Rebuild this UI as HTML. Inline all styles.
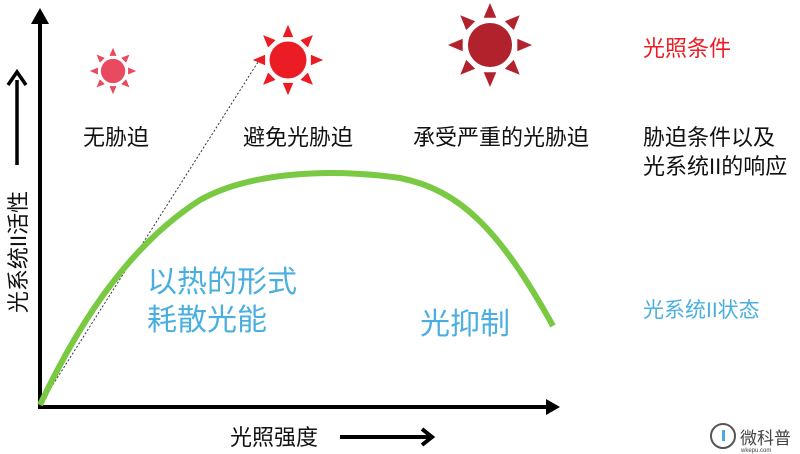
<!DOCTYPE html>
<html><head><meta charset="utf-8"><style>
body{margin:0;background:#fff}
svg{display:block}
text{font-family:"Liberation Sans","Noto Sans CJK SC",sans-serif}
</style></head><body>
<svg width="800" height="454" viewBox="0 0 800 454" xmlns="http://www.w3.org/2000/svg">
<defs>
<polygon id="r" points="-6,-26 6,-26 0,-40"/>
<g id="sun">
<circle r="21"/>
<use href="#r"/><use href="#r" transform="rotate(45)"/><use href="#r" transform="rotate(90)"/><use href="#r" transform="rotate(135)"/><use href="#r" transform="rotate(180)"/><use href="#r" transform="rotate(225)"/><use href="#r" transform="rotate(270)"/><use href="#r" transform="rotate(315)"/>
</g>
</defs>
<!-- axes -->
<line x1="40" y1="408" x2="40" y2="22" stroke="#000" stroke-width="4"/>
<polygon points="31,24 40,8 49,24" fill="#000"/>
<line x1="38" y1="407" x2="548" y2="407" stroke="#000" stroke-width="4"/>
<polygon points="546,399 560,407 546,415" fill="#000"/>
<!-- small y arrow -->
<line x1="17" y1="165" x2="17" y2="80" stroke="#000" stroke-width="3.5"/>
<polyline points="8,85 17,72 26,85" fill="none" stroke="#000" stroke-width="3.5"/>
<text transform="translate(26,252) rotate(-90)" font-size="22" text-anchor="middle" fill="#111">光系统II活性</text>
<!-- x label -->
<text x="230" y="445" font-size="22" fill="#111">光照强度</text>
<line x1="340" y1="437" x2="430" y2="437" stroke="#000" stroke-width="4"/>
<polyline points="422,429 432,437 422,445" fill="none" stroke="#000" stroke-width="4"/>
<!-- suns -->
<use href="#sun" transform="translate(113,71) scale(0.58)" fill="#e84a5f"/>
<use href="#sun" transform="translate(288,60) scale(0.88)" fill="#ec1c24"/>
<use href="#sun" transform="translate(490,45) scale(1.05)" fill="#b1222d"/>
<!-- dotted line -->
<line x1="40" y1="405" x2="258" y2="62" stroke="#333" stroke-width="1" stroke-dasharray="2,2"/>
<!-- curve -->
<path d="M40,405 C80,320 130,245 200,200 C250,172 330,168 400,178 C460,190 500,230 553,326" fill="none" stroke="#7ac943" stroke-width="6"/>
<!-- labels -->
<g font-size="22" fill="#111">
<text x="116" y="145" text-anchor="middle">无胁迫</text>
<text x="298" y="145" text-anchor="middle">避免光胁迫</text>
<text x="501" y="145" text-anchor="middle">承受严重的光胁迫</text>
<text x="643" y="145">胁迫条件以及</text>
<text x="643" y="174">光系统II的响应</text>
</g>
<text x="643" y="56" font-size="22" fill="#ec1c24">光照条件</text>
<text x="643" y="317" font-size="21" fill="#4aafe0">光系统II状态</text>
<g font-size="30" fill="#4aafe0">
<text x="147" y="292">以热的形式</text>
<text x="147" y="330">耗散光能</text>
<text x="420" y="334">光抑制</text>
</g>
<!-- watermark -->
<circle cx="723" cy="436" r="12" fill="none" stroke="#555" stroke-width="2"/>
<rect x="722" y="430" width="3" height="11" fill="#4aafe0"/>
<text x="740" y="444" font-size="17" fill="#444">微科普</text>
<text x="741" y="452" font-size="6" fill="#444">wkepu.com</text>
</svg>
</body></html>
